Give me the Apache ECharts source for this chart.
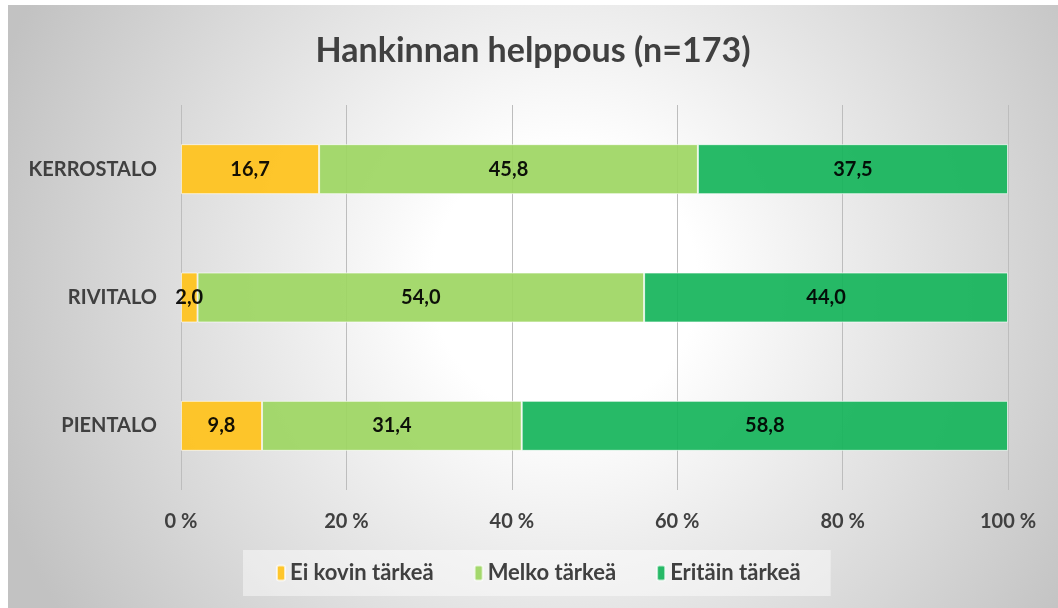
<!DOCTYPE html>
<html>
<head>
<meta charset="utf-8">
<script src="https://cdn.jsdelivr.net/npm/echarts@6/dist/echarts.min.js"></script>
<style>
    body { margin: 0; background: #ffffff; }
    #main { position: absolute; left: 8px; top: 5px; width: 1050px; height: 603px; }
</style>
</head>
<body>
<div id="main"></div>
<script>
// kategoriat ylhäältä alas
var categories = ["KERROSTALO", "RIVITALO", "PIENTALO"];
var seriesNames = ["Ei kovin tärkeä", "Melko tärkeä", "Eritäin tärkeä"];
var eiKovinTarkea = [16.7, 2.0, 9.8];
var melkoTarkea = [45.8, 54.0, 31.4];
var eritainTarkea = [37.5, 44.0, 58.8];
var colors = ["#FFC21A", "#9DD662", "#15B45A"];

var textColor = "#404040";
var fontName = "Lato, 'Open Sans', sans-serif";

var mycharts = echarts.init(document.getElementById("main"));

function makeSeries(name, values, color) {
    return {
        name: name,
        type: "bar",
        stack: "total",
        barWidth: 50,
        data: values,
        itemStyle: {
            color: color,
            opacity: 0.92,
            borderColor: "rgba(255,255,255,0.7)",
            borderWidth: 1
        },
        label: {
            show: true,
            position: "inside",
            color: "#000000",
            fontFamily: fontName,
            fontWeight: "bold",
            fontSize: 20,
            formatter: function (p) {
                return p.value.toFixed(1).replace(".", ",");
            }
        },
        emphasis: { disabled: true }
    };
}

var option = {
    animation: false,
    backgroundColor: {
        type: "radial",
        x: 0.53, y: 0.46, r: 1.0,
        colorStops: [
            { offset: 0, color: "#ffffff" },
            { offset: 0.22, color: "#ffffff" },
            { offset: 1, color: "#c2c2c2" }
        ]
    },
    title: {
        text: "Hankinnan helppous (n=173)",
        left: "center",
        top: 24,
        textStyle: {
            color: textColor,
            fontFamily: fontName,
            fontWeight: "bold",
            fontSize: 34
        }
    },
    legend: {
        bottom: 12,
        left: 235,
        itemWidth: 8,
        itemHeight: 15,
        itemGap: 40,
        padding: [12, 30, 12, 33],
        backgroundColor: "rgba(255,255,255,0.45)",
        data: seriesNames,
        textStyle: {
            color: textColor,
            fontFamily: fontName,
            fontWeight: "bold",
            fontSize: 22
        }
    },
    grid: {
        left: 173,
        right: 50,
        top: 100,
        bottom: 118,
        containLabel: false
    },
    xAxis: {
        type: "value",
        min: 0,
        max: 100,
        interval: 20,
        axisLine: { show: false },
        axisTick: { show: false },
        splitLine: { lineStyle: { color: "#bdbdbd", width: 1 } },
        axisLabel: {
            margin: 22,
            color: textColor,
            fontFamily: fontName,
            fontWeight: "bold",
            fontSize: 20,
            formatter: "{value} %"
        }
    },
    yAxis: {
        type: "category",
        inverse: true,
        data: categories,
        axisLine: { show: false },
        axisTick: { show: false },
        axisLabel: {
            margin: 24,
            color: textColor,
            fontFamily: fontName,
            fontWeight: "bold",
            fontSize: 20
        }
    },
    series: [
        makeSeries(seriesNames[0], eiKovinTarkea, colors[0]),
        makeSeries(seriesNames[1], melkoTarkea, colors[1]),
        makeSeries(seriesNames[2], eritainTarkea, colors[2])
    ]
};

mycharts.setOption(option);
</script>
</body>
</html>
